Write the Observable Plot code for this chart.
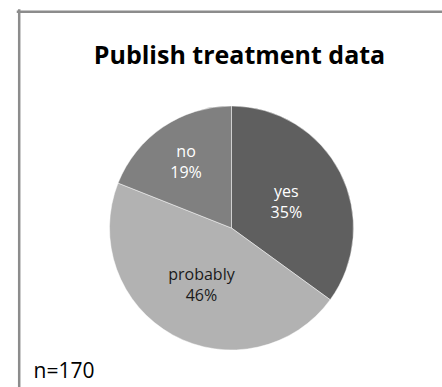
<!DOCTYPE html>
<html>
<head>
<meta charset="utf-8">
<script src="https://cdn.jsdelivr.net/npm/d3@7"></script>
<script src="https://cdn.jsdelivr.net/npm/@observablehq/plot@0.6"></script>
<style>
  body { margin: 0; background: #fff; }
  svg { display: block; }
</style>
</head>
<body>
<div id="chart"></div>
<script>
// Survey answers: would you publish treatment data?
const answers = ["yes", "probably", "no"];
const shares = [35, 46, 19];          // percent of respondents
const sampleNote = "n=170";
const title = "Publish treatment data";

const shades = ["#5f5f5f", "#b2b2b2", "#808080"];
const labelInk = ["white", "black", "white"];

const rows = answers.map((answer, i) => ({answer, share: shares[i], ink: labelInk[i]}));

// Slices start at 12 o'clock and run clockwise in answer order.
const arcs = d3.pie().value(d => d.share).sort(null)(rows);

// Label distance from the centre, as a fraction of the radius.
const labelRadius = {yes: 0.5, probably: 0.52, no: 0.67};

const wedges = arcs.map(a => {
  const mid = (a.startAngle + a.endAngle) / 2;
  const k = labelRadius[a.data.answer];
  return {
    ...a.data,
    startAngle: a.startAngle,
    endAngle: a.endAngle,
    lx: k * Math.sin(mid),
    ly: k * Math.cos(mid)
  };
});

const font = "'Open Sans', 'Noto Sans', sans-serif";
const borderColor = "#8c8c8c";

const chart = Plot.plot({
  width: 442,
  height: 387,
  margin: 0,
  style: {overflow: "hidden", background: "white"},
  x: {domain: [-1, 1], range: [109.5, 353.5], axis: null},
  y: {domain: [-1, 1], range: [350, 106], axis: null},
  color: {domain: answers, range: shades},
  marks: [
    // chart area border: only its left and top edges fall inside the view
    Plot.frame({anchor: "left", stroke: borderColor, strokeWidth: 2.5, insetLeft: 18.7, insetTop: 10}),
    Plot.frame({anchor: "top", stroke: borderColor, strokeWidth: 2.5, insetLeft: 17.5, insetTop: 11.3}),
    // pie slices, drawn with d3.arc at the scaled centre and radius
    Plot.dot(wedges, {
      x: "lx",
      y: "ly",
      fill: "answer",
      render(index, scales, values) {
        const ox = scales.x(0), oy = scales.y(0);
        const r = scales.x(1) - ox;
        const arc = d3.arc().innerRadius(0).outerRadius(r);
        const g = d3.create("svg:g").attr("transform", `translate(${ox},${oy})`);
        g.selectAll("path")
          .data(index)
          .join("path")
          .attr("d", i => arc(wedges[i]))
          .attr("fill", i => values.fill[i])
          .attr("stroke", "white")
          .attr("stroke-opacity", 0.45)
          .attr("stroke-width", 1);
        return g.node();
      }
    }),
    Plot.text(wedges.filter(d => d.ink === "white"), {
      x: "lx", y: "ly",
      text: d => `${d.answer}\n${d.share}%`,
      fill: "white", fontSize: 16, lineHeight: 1.3, fontFamily: font
    }),
    Plot.text(wedges.filter(d => d.ink === "black"), {
      x: "lx", y: "ly",
      text: d => `${d.answer}\n${d.share}%`,
      fill: "#1a1a1a", fontSize: 16, lineHeight: 1.3, fontFamily: font
    }),
    Plot.text([title], {
      frameAnchor: "top", lineAnchor: "middle", dx: 18, dy: 55,
      fontSize: 25, fontWeight: "bold", fontFamily: font, fill: "black"
    }),
    Plot.text([sampleNote], {
      frameAnchor: "bottom-left", lineAnchor: "middle", textAnchor: "start", dx: 33, dy: -16.7,
      fontSize: 21, fontFamily: font, fill: "black"
    })
  ]
});

document.getElementById("chart").append(chart);
</script>
</body>
</html>
